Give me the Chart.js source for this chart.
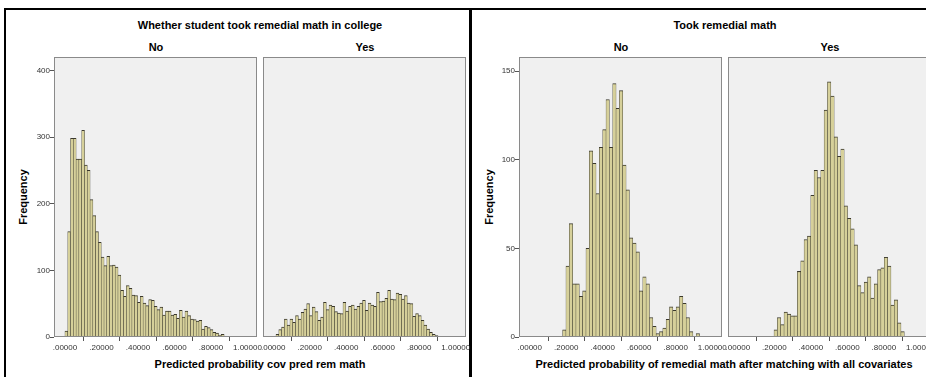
<!DOCTYPE html>
<html>
<head>
<meta charset="utf-8">
<script src="https://cdn.jsdelivr.net/npm/chart.js@4.4.1/dist/chart.umd.min.js"></script>
<style>
  body { margin: 0; background: #fff; width: 926px; height: 377px; overflow: hidden; position: relative; font-family: "Liberation Sans", Arial, sans-serif; }
  .panel { position: absolute; border: 2px solid #000; box-sizing: border-box; }
  canvas { position: absolute; }
  .lbl { position: absolute; transform: translate(-50%, -50%); font-weight: bold; font-size: 11px; white-space: nowrap; color: #000; }
  .ytitle { transform: translate(-50%, -50%) rotate(-90deg); }
</style>
</head>
<body>
<div class="panel" style="left:4px; top:8px; width:467px; height:400px"></div>
<div class="panel" style="left:470px; top:8px; width:480px; height:400px"></div>

<div class="lbl" style="left:260px; top:25px">Whether student took remedial math in college</div>
<div class="lbl" style="left:156px; top:47px">No</div>
<div class="lbl" style="left:365px; top:47px">Yes</div>
<div class="lbl ytitle" style="left:23px; top:197px">Frequency</div>
<div class="lbl" style="left:260px; top:364px">Predicted probability cov pred rem math</div>

<div class="lbl" style="left:725px; top:25px">Took remedial math</div>
<div class="lbl" style="left:621px; top:47px">No</div>
<div class="lbl" style="left:830px; top:47px">Yes</div>
<div class="lbl ytitle" style="left:489px; top:197px">Frequency</div>
<div class="lbl" style="left:724px; top:364px">Predicted probability of remedial math after matching with all covariates</div>

<script>
// bins
const leftBinStart = 0;
const leftBinWidth = 0.0153;
const rightBinStart = 0.18;
const rightBinWidth = 0.0183;

// frequencies, before matching
const leftNo = [9, 158, 298, 298, 267, 267, 310, 258, 250, 206, 182, 158, 142, 120, 107, 121, 107, 108, 105, 93,
  70, 61, 77, 73, 63, 62, 52, 61, 51, 47, 56, 55, 46, 41, 45, 33, 39, 39, 33, 34,
  28, 40, 30, 39, 32, 27, 26, 24, 25, 12, 16, 14, 11, 7, 6, 3, 4];
const leftYes = [0, 4, 11, 15, 27, 18, 27, 22, 32, 27, 37, 42, 50, 32, 45, 38, 25, 30, 52, 41,
  48, 46, 38, 36, 35, 52, 39, 46, 48, 42, 46, 51, 55, 40, 51, 48, 46, 67, 53, 54,
  58, 70, 57, 56, 66, 64, 57, 62, 51, 50, 31, 35, 32, 25, 18, 12, 7, 4, 2];

// frequencies, after matching
const rightNo = [4, 40, 64, 30, 30, 23, 26, 50, 105, 98, 81, 107, 117, 134, 107, 143, 129, 139, 97, 83,
  56, 53, 48, 26, 34, 30, 11, 6, 2, 3, 5, 10, 17, 15, 17, 23, 19, 11, 3, 0, 2];
const rightYes = [0, 4, 11, 7, 14, 13, 12, 12, 37, 43, 55, 57, 80, 94, 90, 94, 128, 144, 136, 113,
  102, 106, 74, 67, 61, 52, 29, 25, 31, 34, 22, 30, 38, 39, 45, 40, 18, 21, 8, 3, 0];

const xTickValues = [0, 0.2, 0.4, 0.6, 0.8, 1];
const xTickLabels = ['.00000', '.20000', '.40000', '.60000', '.80000', '1.00000'];
const leftYTicks = [0, 100, 200, 300, 400];
const rightYTicks = [0, 50, 100, 150];

const PAD_L = 30, PAD_R = 30, PAD_T = 8, PAD_B = 2, X_H = 18, Y_W = 26;
const PX_PER_UNIT = 182.5;
const tickFont = { family: 'Liberation Sans', size: 8 };

// grey plot background with a thin frame
const frame = {
  id: 'frame',
  beforeDraw(chart) {
    const a = chart.chartArea, c = chart.ctx;
    c.save();
    c.fillStyle = '#f0f0f0';
    c.fillRect(a.left, a.top, a.right - a.left, a.bottom - a.top);
    c.restore();
  },
  afterDraw(chart) {
    const a = chart.chartArea, c = chart.ctx;
    c.save();
    c.strokeStyle = '#8a8a8a';
    c.lineWidth = 1;
    c.strokeRect(a.left + 0.5, a.top + 0.5, a.right - a.left - 1, a.bottom - a.top - 1);
    c.restore();
  }
};

function histogram(box, counts, binStart, binWidth, xMin, yMax, yTicks, showY) {
  const yw = showY ? Y_W : 0;
  const cv = document.createElement('canvas');
  cv.width = (box.x1 - box.x0) + PAD_L + yw + PAD_R;
  cv.height = (box.y1 - box.y0) + PAD_T + PAD_B + X_H;
  cv.style.left = (box.x0 - PAD_L - yw) + 'px';
  cv.style.top = (box.y0 - PAD_T) + 'px';
  document.body.appendChild(cv);

  const points = counts.map((c, i) => ({ x: binStart + binWidth * (i + 0.5), y: c }));

  new Chart(cv, {
    type: 'bar',
    data: {
      datasets: [{
        data: points,
        backgroundColor: '#d6d09a',
        borderColor: '#3a382c',
        borderWidth: { top: 1, left: 0.5, right: 0.5, bottom: 0 },
        barPercentage: 1,
        categoryPercentage: 1
      }]
    },
    options: {
      responsive: false,
      animation: false,
      devicePixelRatio: 1,
      layout: { padding: { left: PAD_L, right: PAD_R, top: PAD_T, bottom: PAD_B } },
      plugins: { legend: { display: false }, tooltip: { enabled: false } },
      scales: {
        x: {
          type: 'linear',
          offset: false,
          min: xMin,
          max: xMin + (box.x1 - box.x0) / PX_PER_UNIT,
          afterBuildTicks: s => { s.ticks = xTickValues.map(v => ({ value: v })); },
          afterFit: s => { s.height = X_H; },
          ticks: {
            autoSkip: false, maxRotation: 0, minRotation: 0, padding: 2,
            color: '#333', font: tickFont,
            callback: v => xTickLabels[xTickValues.indexOf(v)]
          },
          grid: { drawOnChartArea: false, tickLength: 4, color: '#555' },
          border: { display: false }
        },
        y: {
          display: showY,
          min: 0,
          max: yMax,
          afterBuildTicks: s => { s.ticks = yTicks.map(v => ({ value: v })); },
          afterFit: s => { s.width = yw; },
          ticks: { padding: 0, color: '#333', font: tickFont },
          grid: { drawOnChartArea: false, tickLength: 4, color: '#555' },
          border: { display: false }
        }
      }
    },
    plugins: [frame]
  });
}

histogram({ x0: 54, x1: 257, y0: 57, y1: 337 }, leftNo, leftBinStart, leftBinWidth, -0.060, 420, leftYTicks, true);
histogram({ x0: 263, x1: 466, y0: 57, y1: 337 }, leftYes, leftBinStart, leftBinWidth, -0.056, 420, leftYTicks, false);
histogram({ x0: 519, x1: 722, y0: 57, y1: 337 }, rightNo, rightBinStart, rightBinWidth, -0.059, 158, rightYTicks, true);
histogram({ x0: 728, x1: 931, y0: 57, y1: 337 }, rightYes, rightBinStart, rightBinWidth, -0.054, 158, rightYTicks, false);
</script>
</body>
</html>
